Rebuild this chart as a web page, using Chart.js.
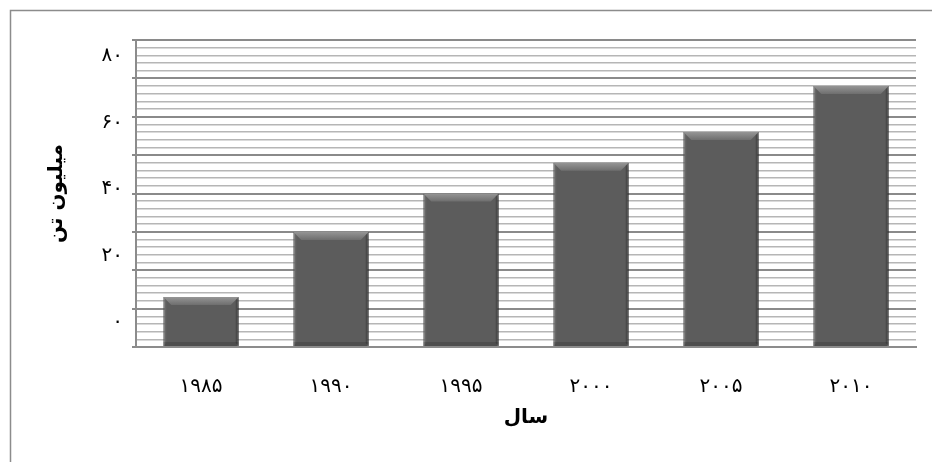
<!DOCTYPE html>
<html>
<head>
<meta charset="utf-8">
<script src="https://cdn.jsdelivr.net/npm/chart.js@4"></script>
<style>
  body { margin: 0; background: #fff; }
  #wrap { width: 932px; height: 462px; }
</style>
</head>
<body>
<div id="wrap"><canvas id="chart" width="932" height="462"></canvas></div>
<script>
// داده‌ها
const years = ["۱۹۸۵", "۱۹۹۰", "۱۹۹۵", "۲۰۰۰", "۲۰۰۵", "۲۰۱۰"];
const amounts = [13, 30, 40, 48, 56, 68];
const yTickValues = [0, 20, 40, 60, 80];
const yTickLabels = ["۰", "۲۰", "۴۰", "۶۰", "۸۰"];
const xTitle = "سال";
const yTitle = "میلیون تن";

const fontFamily = "'DejaVu Sans', sans-serif";

// قاب بیرونی
const framePlugin = {
  id: "frame",
  beforeDraw(chart) {
    const ctx = chart.ctx;
    ctx.save();
    ctx.strokeStyle = "#8c8c8c";
    ctx.lineWidth = 1.5;
    ctx.strokeRect(10.5, 10.5, chart.width + 20, chart.height + 20);
    ctx.restore();
  },
};

// سایه و برجستگی ستون‌ها
const bevelPlugin = {
  id: "bevel",
  beforeDatasetsDraw(chart) {
    const ctx = chart.ctx;
    ctx.save();
    ctx.shadowColor = "rgba(0,0,0,0.28)";
    ctx.shadowBlur = 7;
    ctx.shadowOffsetX = 3;
    ctx.shadowOffsetY = 2;
  },
  afterDatasetsDraw(chart) {
    const ctx = chart.ctx;
    ctx.restore();
    const meta = chart.getDatasetMeta(0);
    const b = 8;
    meta.data.forEach((bar) => {
      const l = bar.x - bar.width / 2;
      const r = bar.x + bar.width / 2;
      const t = bar.y;
      const bt = bar.base;
      ctx.save();
      // بالا
      const g = ctx.createLinearGradient(0, t, 0, t + b);
      g.addColorStop(0, "#959595");
      g.addColorStop(1, "#6e6e6e");
      ctx.fillStyle = g;
      ctx.beginPath();
      ctx.moveTo(l, t);
      ctx.lineTo(r, t);
      ctx.lineTo(r - b, t + b);
      ctx.lineTo(l + b, t + b);
      ctx.closePath();
      ctx.fill();
      // چپ
      ctx.fillStyle = "rgba(255,255,255,0.07)";
      ctx.beginPath();
      ctx.moveTo(l, t);
      ctx.lineTo(l + 3, t + 3);
      ctx.lineTo(l + 3, bt - 3);
      ctx.lineTo(l, bt);
      ctx.closePath();
      ctx.fill();
      // راست
      ctx.fillStyle = "rgba(0,0,0,0.2)";
      ctx.beginPath();
      ctx.moveTo(r, t);
      ctx.lineTo(r - 3, t + 3);
      ctx.lineTo(r - 3, bt - 3);
      ctx.lineTo(r, bt);
      ctx.closePath();
      ctx.fill();
      // پایین
      ctx.fillStyle = "rgba(0,0,0,0.15)";
      ctx.fillRect(l, bt - 4, r - l, 4);
      ctx.restore();
    });
  },
};

new Chart(document.getElementById("chart"), {
  type: "bar",
  data: {
    labels: years,
    datasets: [
      {
        data: amounts,
        yAxisID: "y",
        backgroundColor: "#5c5c5c",
        borderColor: "#4a4a4a",
        borderWidth: 1,
        barPercentage: 0.58,
        categoryPercentage: 1,
      },
    ],
  },
  options: {
    responsive: false,
    animation: false,
    layout: { padding: { top: 40, right: 16, left: 0, bottom: 0 } },
    plugins: {
      legend: { display: false },
      tooltip: { enabled: false },
    },
    scales: {
      x: {
        grid: { display: false },
        border: { color: "#8c8c8c", width: 2 },
        ticks: {
          color: "#000",
          padding: 20,
          font: { family: fontFamily, size: 20 },
        },
        title: {
          display: true,
          text: xTitle,
          color: "#000",
          font: { family: fontFamily, size: 20, weight: "bold" },
          padding: { top: 0, bottom: 32 },
        },
        afterFit(scale) {
          scale.height = 115;
        },
      },
      y: {
        position: "left",
        weight: 0,
        min: 0,
        max: 80,
        ticks: { display: false, stepSize: 2 },
        border: { color: "#8c8c8c", width: 2 },
        grid: {
          color: (c) => (c.tick && c.tick.value % 10 === 0 ? "#8a8a8a" : "#b6b6b6"),
          lineWidth: (c) => (c.tick && c.tick.value % 10 === 0 ? 2 : 1.6),
          tickColor: (c) => (c.tick && c.tick.value % 10 === 0 ? "#8a8a8a" : "rgba(0,0,0,0)"),
          tickLength: 4,
        },
        afterFit(scale) {
          scale.width = 6;
        },
      },
      y2: {
        position: "left",
        weight: 10,
        min: -7.52,
        max: 84.81,
        grid: { display: false, drawTicks: false },
        border: { display: false },
        afterBuildTicks(scale) {
          scale.ticks = yTickValues.map((v) => ({ value: v }));
        },
        ticks: {
          color: "#000",
          padding: 7,
          font: { family: fontFamily, size: 20 },
          callback: (value) => yTickLabels[yTickValues.indexOf(value)],
        },
        title: {
          display: true,
          text: yTitle,
          color: "#000",
          font: { family: fontFamily, size: 20, weight: "bold" },
          padding: { top: 45, bottom: 0 },
        },
        afterFit(scale) {
          scale.width = 130;
        },
      },
    },
  },
  plugins: [framePlugin, bevelPlugin],
});
</script>
</body>
</html>
